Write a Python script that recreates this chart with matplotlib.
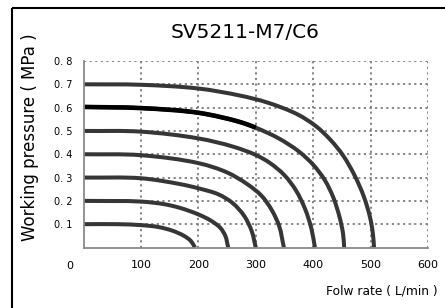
import matplotlib
matplotlib.use("Agg")
import matplotlib.pyplot as plt
from matplotlib.lines import Line2D
from matplotlib.path import Path
from matplotlib.patches import PathPatch
import numpy as np

plt.rcParams['font.family'] = ['DejaVu Sans']

title = "SV5211-M7/C6"
xlabel = "Folw rate ( L/min )"
ylabel = "Working pressure ( MPa )"
xticks = [0, 100, 200, 300, 400, 500, 600]
yticks = [0.1, 0.2, 0.3, 0.4, 0.5, 0.6, 0.7, 0.8]
ytick_labels = ["0. 1", "0. 2", "0. 3", "0. 4", "0. 5", "0. 6", "0. 7", "0. 8"]

# flow (L/min) and pressure (MPa)
flow_07 = [0, 100, 200, 272, 320, 372, 405, 430, 452, 472, 488, 499, 504, 506]
pres_07 = [0.700, 0.698, 0.682, 0.652, 0.622, 0.572, 0.520, 0.462, 0.395, 0.310, 0.220, 0.130, 0.060, 0.0]

flow_06 = [0, 100, 200, 270, 300, 340, 375, 400, 420, 435, 446, 452, 454]
pres_06 = [0.603, 0.598, 0.578, 0.540, 0.514, 0.468, 0.412, 0.355, 0.290, 0.215, 0.130, 0.060, 0.0]

flow_05 = [0, 100, 200, 260, 300, 325, 350, 370, 386, 397, 403]
pres_05 = [0.500, 0.497, 0.468, 0.433, 0.397, 0.362, 0.310, 0.245, 0.165, 0.080, 0.0]

flow_04 = [0, 100, 200, 250, 285, 310, 328, 341, 349]
pres_04 = [0.400, 0.396, 0.362, 0.322, 0.272, 0.222, 0.160, 0.090, 0.0]

flow_03 = [0, 100, 168, 200, 235, 260, 280, 293, 300]
pres_03 = [0.300, 0.297, 0.272, 0.254, 0.228, 0.190, 0.135, 0.070, 0.0]

flow_02 = [0, 100, 140, 168, 200, 222, 238, 247, 252]
pres_02 = [0.200, 0.197, 0.186, 0.170, 0.142, 0.115, 0.085, 0.050, 0.0]

flow_01 = [0, 60, 100, 130, 155, 175, 187, 194]
pres_01 = [0.100, 0.100, 0.096, 0.088, 0.072, 0.050, 0.028, 0.0]

highlight_max_flow = 300  # black, thicker part of the 0.6 MPa curve

curves = [(flow_01, pres_01), (flow_02, pres_02), (flow_03, pres_03),
          (flow_04, pres_04), (flow_05, pres_05), (flow_06, pres_06),
          (flow_07, pres_07)]

W, H, DPI = 445, 308, 100
fig = plt.figure(figsize=(W / DPI, H / DPI), dpi=DPI)
fig.patch.set_facecolor('white')

# frame lines (top and left)
fig.add_artist(Line2D([12 / W, 1.0], [1 - 8 / H, 1 - 8 / H], color='black', lw=1.5,
                      transform=fig.transFigure, solid_capstyle='butt'))
fig.add_artist(Line2D([12 / W, 12 / W], [0.0, 1 - 8 / H], color='black', lw=1.5,
                      transform=fig.transFigure, solid_capstyle='butt'))

ax_l, ax_r, ax_b, ax_t = 83.5, 428.0, 247.5, 61.0
ax = fig.add_axes([ax_l / W, 1 - ax_b / H, (ax_r - ax_l) / W, (ax_b - ax_t) / H])
ax.set_xlim(0, 600)
ax.set_ylim(0, 0.8)

grid_kw = dict(color='#7c7c7c', lw=1.3, ls=(0, (1.2, 1.9)), zorder=1)
for x in xticks[1:]:
    ax.axvline(x, **grid_kw)
for y in yticks:
    ax.axhline(y, **grid_kw)

# scale factors so smoothing happens in (roughly) pixel space
sx = (ax_r - ax_l) / 600.0
sy = (ax_b - ax_t) / 0.8


def bezier_segments(fl, pr, alpha=0.5):
    """Centripetal Catmull-Rom curve through the read points -> list of cubic segments."""
    P = np.column_stack([np.asarray(fl, float) * sx, np.asarray(pr, float) * sy])
    n = len(P)
    ext = np.vstack([2 * P[0] - P[1], P, 2 * P[-1] - P[-2]])
    segs = []
    for i in range(n - 1):
        p0, p1, p2, p3 = ext[i], ext[i + 1], ext[i + 2], ext[i + 3]
        t0 = 0.0
        t1 = t0 + np.linalg.norm(p1 - p0) ** alpha
        t2 = t1 + np.linalg.norm(p2 - p1) ** alpha
        t3 = t2 + np.linalg.norm(p3 - p2) ** alpha
        m1 = (p1 - p0) / (t1 - t0) - (p2 - p0) / (t2 - t0) + (p2 - p1) / (t2 - t1)
        m2 = (p2 - p1) / (t2 - t1) - (p3 - p1) / (t3 - t1) + (p3 - p2) / (t3 - t2)
        m1 *= (t2 - t1)
        m2 *= (t2 - t1)
        c1 = p1 + m1 / 3.0
        c2 = p2 - m2 / 3.0
        segs.append((p1, c1, c2, p2))
    return segs


def to_path(segs):
    verts = [segs[0][0]]
    codes = [Path.MOVETO]
    for _, c1, c2, p2 in segs:
        verts += [c1, c2, p2]
        codes += [Path.CURVE4] * 3
    V = np.array(verts)
    V[:, 0] /= sx
    V[:, 1] /= sy
    return Path(V, codes)


curve_color = '#363636'
for fl, pr in curves:
    ax.add_patch(PathPatch(to_path(bezier_segments(fl, pr)), fill=False,
                           edgecolor=curve_color, lw=2.9, capstyle='butt',
                           joinstyle='round', zorder=3))

segs06 = bezier_segments(flow_06, pres_06)
n_hi = flow_06.index(highlight_max_flow)
ax.add_patch(PathPatch(to_path(segs06[:n_hi]), fill=False, edgecolor='black',
                       lw=3.3, capstyle='butt', joinstyle='round', zorder=4))

for s in ['top', 'right']:
    ax.spines[s].set_visible(False)
for s in ['left', 'bottom']:
    ax.spines[s].set_color('#8a8a8a')
    ax.spines[s].set_linewidth(1.3)
    ax.spines[s].set_zorder(5)

ax.set_xticks(xticks)
ax.set_xticklabels([''] + [str(v) for v in xticks[1:]])
ax.set_yticks(yticks)
ax.set_yticklabels(ytick_labels)
ax.tick_params(axis='both', length=0)
ax.tick_params(axis='x', labelsize=8, pad=9)
ax.tick_params(axis='y', labelsize=7, pad=8)
ax.annotate(str(xticks[0]), xy=(0, 0), xycoords='data', xytext=(-10, -13),
            textcoords='offset points', ha='center', va='center', fontsize=8)

fig.text(245 / W, 1 - 32 / H, title, ha='center', va='center', fontsize=14.5)
fig.text(438 / W, 1 - 291 / H, xlabel, ha='right', va='center', fontsize=8.8)
fig.text(30 / W, 1 - 137 / H, ylabel, ha='center', va='center', rotation=90, fontsize=12)

fig.savefig('out.png', dpi=DPI, facecolor='white')
